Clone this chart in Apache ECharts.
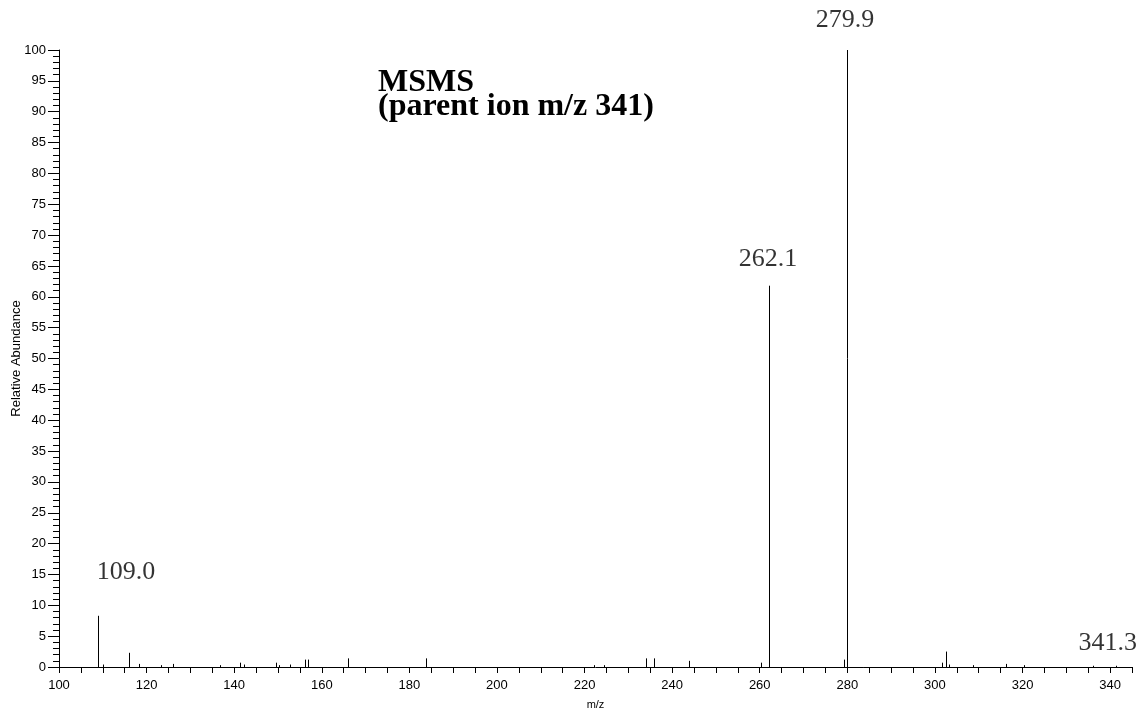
<!DOCTYPE html>
<html>
<head>
<meta charset="utf-8">
<script src="https://cdn.jsdelivr.net/npm/echarts@6/dist/echarts.min.js"></script>
<style>html,body{margin:0;padding:0;background:#fff;}#c{width:1144px;height:714px;}</style>
</head>
<body>
<div id="c"></div>
<script>
var mz = [108.9, 110.0, 116.0, 118.3, 123.2, 126.0, 136.8, 141.4, 142.2, 149.5, 150.2, 152.8, 156.1, 156.9, 165.9, 183.8, 222.2, 224.5, 234.0, 235.9, 243.9, 260.4, 262.1, 279.2, 279.9, 301.7, 302.6, 303.2, 308.6, 316.3, 320.3, 336.0, 341.3];
var abundance = [8.3, 0.4, 2.3, 0.5, 0.3, 0.5, 0.3, 0.7, 0.4, 0.7, 0.3, 0.4, 1.2, 1.2, 1.4, 1.4, 0.3, 0.3, 1.4, 1.4, 1.0, 0.7, 61.8, 1.2, 100, 0.7, 2.5, 0.4, 0.3, 0.5, 0.3, 0.2, 0.2];
var labelMz = [108.9, 262.1, 279.9, 341.3];
var labelText = ['109.0', '262.1', '279.9', '341.3'];
var titleLines = ['MSMS', '(parent ion m/z 341)'];
var xAxisName = 'm/z';
var yAxisName = 'Relative Abundance';

var labelOffsets = [[28, -44], [-1, -27], [-2, -30], [-8, -23]];

var peaks = mz.map(function (m, i) { return [m, abundance[i]]; });
var labelData = labelMz.map(function (m, i) {
  var idx = mz.indexOf(m);
  return {
    value: [m, abundance[idx]],
    label: { offset: labelOffsets[i], formatter: labelText[i] }
  };
});

var chart = echarts.init(document.getElementById('c'));
chart.setOption({
  animation: false,
  grid: { left: 59, right: 12, top: 50, bottom: 47, containLabel: false, outerBoundsMode: 'none' },
  xAxis: {
    type: 'value', min: 100, max: 345, interval: 5,
    name: xAxisName, nameLocation: 'middle', nameGap: 32, nameMoveOverlap: false,
    nameTextStyle: { fontFamily: 'Liberation Sans', fontSize: 11, color: '#000' },
    axisLine: { lineStyle: { color: '#000', width: 1 } },
    axisTick: { length: 6, lineStyle: { color: '#000' } },
    axisLabel: {
      fontFamily: 'Liberation Sans', fontSize: 13, color: '#000', margin: 12,
      formatter: function (v) { return v % 20 === 0 ? String(v) : ''; }
    },
    splitLine: { show: false }
  },
  yAxis: {
    type: 'value', min: 0, max: 100, interval: 5,
    name: yAxisName, nameLocation: 'middle', nameGap: 36, nameMoveOverlap: false,
    nameTextStyle: { fontFamily: 'Liberation Sans', fontSize: 13, color: '#000' },
    axisLine: { show: true, lineStyle: { color: '#000', width: 1 } },
    axisTick: { show: true, length: 11, lineStyle: { color: '#000' } },
    minorTick: { show: true, splitNumber: 5, length: 6, lineStyle: { color: '#000' } },
    axisLabel: { fontFamily: 'Liberation Sans', fontSize: 13, color: '#000', margin: 13 },
    splitLine: { show: false }
  },
  series: [
    {
      type: 'custom',
      data: peaks,
      renderItem: function (params, api) {
        var p0 = api.coord([api.value(0), 0]);
        var p1 = api.coord([api.value(0), api.value(1)]);
        var x = Math.round(p0[0]) + 0.5;
        return {
          type: 'line',
          shape: { x1: x, y1: p0[1], x2: x, y2: p1[1] },
          style: { stroke: '#000', lineWidth: 1 }
        };
      },
      silent: true
    },
    {
      type: 'scatter',
      data: labelData,
      symbolSize: 0,
      silent: true,
      label: {
        show: true, position: 'inside',
        fontFamily: 'Liberation Serif', fontSize: 26, color: '#000'
      }
    }
  ],
  graphic: [
    { type: 'text', left: 378, top: 67, style: { text: titleLines[0], font: 'bold 32px "Liberation Serif"', fill: '#000' } },
    { type: 'text', left: 378, top: 91, style: { text: titleLines[1], font: 'bold 32px "Liberation Serif"', fill: '#000' } }
  ]
});
</script>
</body>
</html>
